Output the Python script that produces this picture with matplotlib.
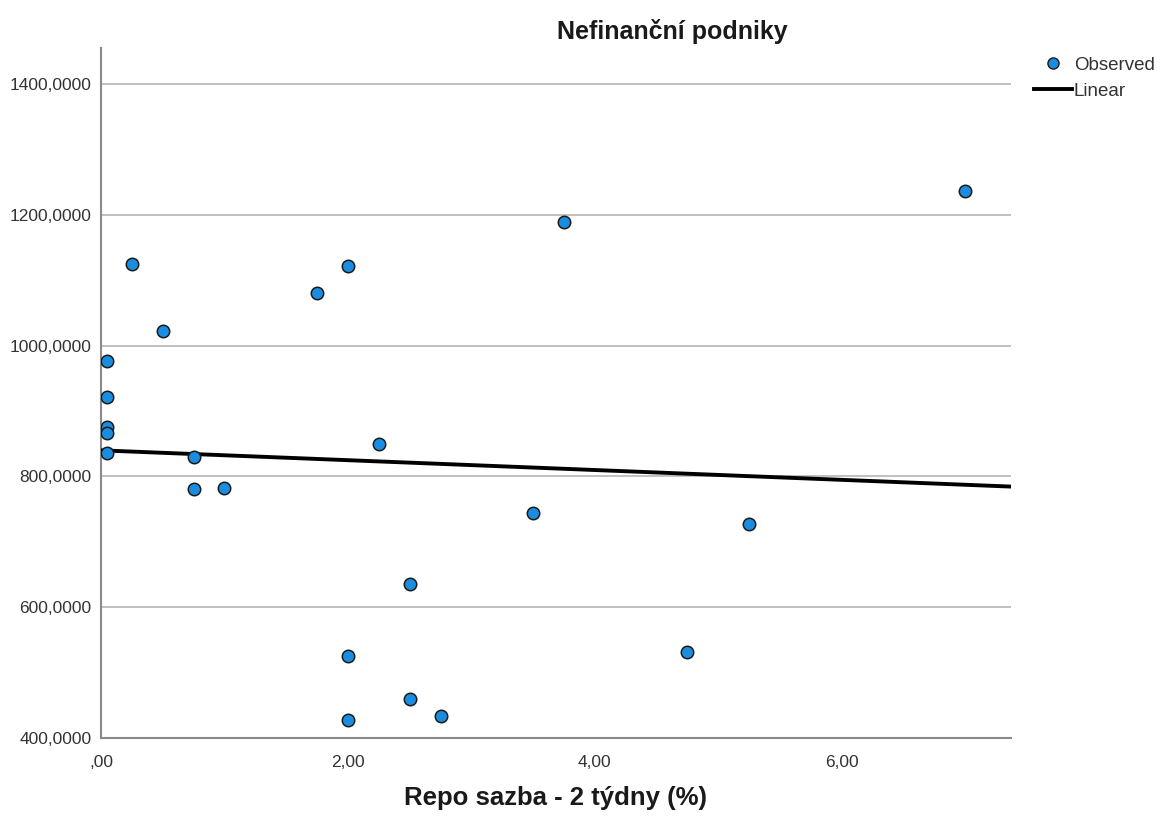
import numpy as np
import matplotlib.pyplot as plt
from matplotlib.lines import Line2D

plt.rcParams['font.family'] = ['Liberation Sans', 'DejaVu Sans']

# Repo rate (%) vs. loans to non-financial corporations
repo = [0.25, 0.5, 0.05, 0.05, 0.05, 0.05, 0.05, 0.75, 0.75, 1.0, 1.75, 2.0,
        2.25, 2.0, 2.0, 2.5, 2.5, 2.75, 3.5, 3.75, 4.75, 5.25, 7.0]
podniky = [1124, 1023, 976, 921, 875, 867, 835, 829, 780, 782, 1081, 1121,
           849, 525, 428, 635, 460, 434, 744, 1189, 531, 727, 1237]

x_ticks = [0, 2, 4, 6]
x_labels = [',00', '2,00', '4,00', '6,00']
y_ticks = [400, 600, 800, 1000, 1200, 1400]
y_labels = ['400,0000', '600,0000', '800,0000', '1000,0000', '1200,0000', '1400,0000']

fig = plt.figure(figsize=(11.66, 8.25), dpi=100)
ax = fig.add_axes([0.0866, 0.1055, 0.7804, 0.8363])

x = np.array(repo)
y = np.array(podniky)
slope, intercept = np.polyfit(x, y, 1)
xmin, xmax = 0, 7.37
ax.plot([xmin, xmax], [intercept + slope * xmin, intercept + slope * xmax],
        color='black', lw=2.8, zorder=3)

ax.scatter(x, y, s=80, color='#1a8de0', edgecolors='#1a1a1a', linewidths=1.1, zorder=4)

ax.set_xlim(xmin, xmax)
ax.set_ylim(400, 1455)
ax.set_xticks(x_ticks)
ax.set_xticklabels(x_labels)
ax.set_yticks(y_ticks)
ax.set_yticklabels(y_labels)
ax.tick_params(length=0, labelsize=12.5, colors='#333333')
ax.tick_params(axis='x', pad=12)
ax.tick_params(axis='y', pad=7)
ax.grid(axis='y', color='#b5b5b5', lw=1.2)
ax.set_axisbelow(True)

for side in ['top', 'right']:
    ax.spines[side].set_visible(False)
for side in ['left', 'bottom']:
    ax.spines[side].set_color('#8a8a8a')
    ax.spines[side].set_linewidth(1.5)

ax.set_xlabel('Repo sazba - 2 týdny (%)', fontsize=18.5, fontweight='bold',
              color='#1a1a1a', labelpad=12)
fig.text(0.577, 0.962, 'Nefinanční podniky', fontsize=18, fontweight='bold',
         color='#1a1a1a', ha='center', va='center')

handles = [
    Line2D([], [], marker='o', ls='none', markersize=8, markerfacecolor='#1a8de0',
           markeredgecolor='#1a1a1a', label='Observed'),
    Line2D([], [], color='black', lw=2.8, label='Linear'),
]
fig.legend(handles=handles, loc='upper left', bbox_to_anchor=(0.879, 0.943),
           frameon=False, fontsize=13.5, handlelength=2.0, handletextpad=0.1,
           labelspacing=0.5, borderpad=0, labelcolor='#333333')

fig.savefig('out.png', dpi=100)
